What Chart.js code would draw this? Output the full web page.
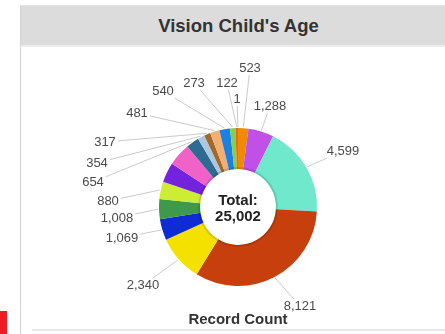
<!DOCTYPE html>
<html>
<head>
<meta charset="utf-8">
<script src="https://cdn.jsdelivr.net/npm/chart.js@4/dist/chart.umd.min.js"></script>
<style>
  html, body { margin:0; padding:0; }
  body { width:445px; height:334px; overflow:hidden; background:#fff; position:relative; font-family:"Liberation Sans", Arial, sans-serif; }
  #panel { position:absolute; left:20px; top:5px; width:440px; height:340px; border-left:1px solid #d4d4d4; border-top:1px solid #e4e4e4; background:#fff; }
  #header { position:absolute; left:21px; top:6px; width:435px; height:39px; background:#dcdcdc; border-bottom:2px solid #ececec; color:#333; font-weight:bold; font-size:18.5px; text-align:center; line-height:39px; }
  #bottomline { position:absolute; left:32px; top:329px; width:420px; height:2px; background:#e6e6e6; }
  #red { position:absolute; left:0; top:311px; width:7px; height:23px; background:#ed1c24; }
  #axis { position:absolute; left:0; width:476px; top:310px; text-align:center; font-weight:bold; font-size:15px; color:#333; }
  canvas { position:absolute; left:0; top:0; }
</style>
</head>
<body>
<div id="panel"></div>
<div id="header">Vision Child's Age</div>
<div id="bottomline"></div>
<div id="red"></div>
<canvas id="c" width="445" height="334"></canvas>
<div id="axis">Record Count</div>
<script>
// ---- data ----
const categories = ["Group 1","Group 2","Group 3","Group 4","Group 5","Group 6","Group 7","Group 8","Group 9",
                    "Group 10","Group 11","Group 12","Group 13","Group 14","Group 15","Group 16","Group 17","Group 18"];
const values = [523, 1288, 4599, 8121, 2340, 1069, 1008, 880, 1000, 1160, 654, 354, 317, 481, 540, 273, 122, 1];
const showValueLabel = [true,true,true,true,true,true,true,true,false,false,true,true,true,true,true,true,true,true];
const totalLabel = "25,002";

// ---- style ----
const colors = ["#f08a00","#c150e6","#6fe8cc","#c63f0c","#f4e100","#0e2bd4","#3e9a4a","#cdec34","#7322de",
                "#f062c8","#2f6a90","#aac8e0","#a0682a","#f1b072","#1f7fe0","#7dd44c","#e8661c","#b8b86a"];
// label text centre offsets relative to the doughnut centre (layout only)
const labelOffsets = [[12,-139],[32,-101],[105,-56],[62,99],[-95,78],[-116,31],[-121,11],[-130,-6],null,null,
                      [-145,-25],[-141,-44],[-133,-65],[-101,-94],[-75,-116],[-44,-124],[-11,-124],[-1,-108]];

const labelPlugin = {
  id: 'sliceLabels',
  afterDatasetsDraw(chart) {
    const ctx = chart.ctx;
    const meta = chart.getDatasetMeta(0);
    const a0 = meta.data[0];
    const cx = a0.x, cy = a0.y;
    ctx.save();
    // subtle shadow around the hole
    ctx.beginPath();
    ctx.arc(cx, cy, a0.innerRadius + 1, 0, Math.PI * 2);
    ctx.strokeStyle = 'rgba(0,0,0,0.12)';
    ctx.lineWidth = 2;
    ctx.stroke();
    ctx.beginPath();
    ctx.arc(cx, cy, a0.innerRadius - 1, 0, Math.PI * 2);
    ctx.fillStyle = '#fff';
    ctx.fill();

    ctx.font = '13px "Liberation Sans", Arial, sans-serif';
    ctx.textAlign = 'center';
    ctx.textBaseline = 'middle';
    meta.data.forEach((arc, i) => {
      const off = labelOffsets[i];
      if (!showValueLabel[i] || !off) return;
      const mid = (arc.startAngle + arc.endAngle) / 2;
      const r = arc.outerRadius + 1;
      const ex = cx + Math.cos(mid) * r, ey = cy + Math.sin(mid) * r;
      const lx = cx + off[0], ly = cy + off[1];
      const text = values[i].toLocaleString('en-US');
      const w = ctx.measureText(text).width;
      const hw = w / 2 + 2, hh = 7;
      const dx = ex - lx, dy = ey - ly;
      const t = Math.min(dx ? hw / Math.abs(dx) : Infinity, dy ? hh / Math.abs(dy) : Infinity);
      const sx = lx + dx * t, sy = ly + dy * t;
      ctx.beginPath();
      ctx.moveTo(sx, sy);
      ctx.lineTo(ex, ey);
      ctx.strokeStyle = '#cacaca';
      ctx.lineWidth = 1;
      ctx.stroke();
      ctx.fillStyle = '#4a4a4a';
      ctx.fillText(text, lx, ly);
    });

    ctx.font = 'bold 15px "Liberation Sans", Arial, sans-serif';
    ctx.fillStyle = '#222';
    ctx.fillText('Total:', cx, cy - 6);
    ctx.fillText(totalLabel, cx, cy + 10);
    ctx.restore();
  }
};

new Chart(document.getElementById('c'), {
  type: 'doughnut',
  data: {
    labels: categories,
    datasets: [{ data: values, backgroundColor: colors, borderWidth: 0 }]
  },
  options: {
    responsive: false,
    animation: false,
    devicePixelRatio: 1,
    cutout: '48%',
    layout: { padding: { left: 159, right: 128, top: 128, bottom: 48 } },
    plugins: { legend: { display: false }, tooltip: { enabled: false }, title: { display: false } }
  },
  plugins: [labelPlugin]
});
</script>
</body>
</html>
